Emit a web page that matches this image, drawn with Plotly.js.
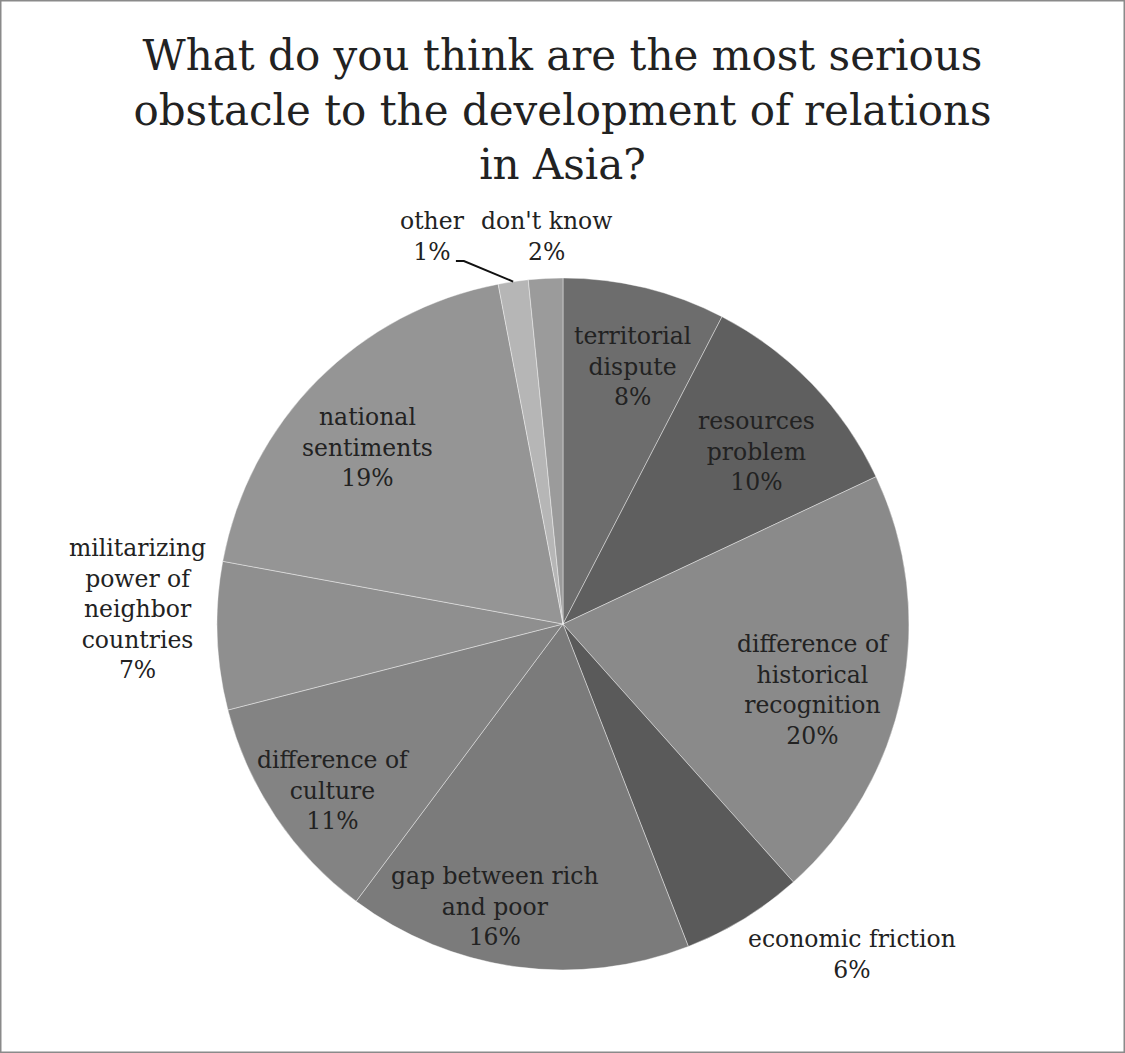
<!DOCTYPE html>
<html>
<head>
<meta charset="utf-8">
<script src="https://cdn.plot.ly/plotly-3.0.1.min.js"></script>
<style>html,body{margin:0;padding:0;background:#fff;}#chart{width:1125px;height:1053px;}</style>
</head>
<body>
<div id="chart"></div>
<script>
// ---- data ----
const categories = ["territorial dispute", "resources problem", "difference of historical recognition",
  "economic friction", "gap between rich and poor", "difference of culture",
  "militarizing power of neighbor countries", "national sentiments", "other", "don't know"];
const shares = [7.6, 10.4, 20.4, 5.7, 16.1, 10.8, 6.9, 19.1, 1.4, 1.6];
const labelLines = ["territorial<br>dispute", "resources<br>problem", "difference of<br>historical<br>recognition",
  "economic friction", "gap between rich<br>and poor", "difference of<br>culture",
  "militarizing<br>power of<br>neighbor<br>countries", "national<br>sentiments", "other", "don't know"];

// ---- styling ----
const sliceColors = ["#6d6d6d", "#5f5f5f", "#8a8a8a", "#5a5a5a", "#7b7b7b", "#838383", "#8f8f8f", "#959595", "#b6b6b6", "#9b9b9b"];
const labelRadius = [0.77, 0.75, 0.75, 1.27, 0.84, 0.82, 1.23, 0.76, 1.18, 1.12];
const labelTurn = [1.5, 2.2, 3.2, -9.7, 5.8, -2.2, 4, -2.8, -10.3, 0.5];
const W = 1125, H = 1053;
const CX = 563, CY = 624, R = 346;
const FONT = "DejaVu Serif, Liberation Serif, serif";

const total = shares.reduce((a, b) => a + b, 0);
const pctText = shares.map(v => Math.round(v / total * 100) + "%");

const annotations = [];
const shapes = [];
let cum = 0;
shares.forEach((v, i) => {
  const mid = (cum + v / 2) / total * 360;
  cum += v;
  const ang = (mid + labelTurn[i]) * Math.PI / 180;
  const px = CX + R * labelRadius[i] * Math.sin(ang);
  const py = CY - R * labelRadius[i] * Math.cos(ang);
  annotations.push({
    x: px / W, y: 1 - py / H, xref: "paper", yref: "paper",
    text: labelLines[i] + "<br>" + pctText[i], showarrow: false,
    xanchor: "center", yanchor: "middle", align: "center",
    font: {family: FONT, size: 23.5, color: "#222"}
  });
  if (categories[i] === "other") {
    const ma = mid * Math.PI / 180;
    const ex = CX + R * Math.sin(ma), ey = CY - R * Math.cos(ma);
    const sx = px + 23, sy = py + 24, kx = px + 31;
    const f = (x, y) => (x / W).toFixed(5) + "," + (1 - y / H).toFixed(5);
    shapes.push({type: "path", xref: "paper", yref: "paper",
      path: "M" + f(sx, sy) + " L" + f(kx, sy) + " L" + f(ex, ey),
      line: {color: "#111", width: 2}});
  }
});

shapes.push({type: "rect", xref: "paper", yref: "paper", x0: 0, y0: 0, x1: 1, y1: 1,
  line: {color: "#8a8a8a", width: 3}});

const trace = {
  type: "pie",
  labels: categories,
  values: shares,
  sort: false,
  direction: "clockwise",
  rotation: 0,
  textinfo: "none",
  hoverinfo: "label+percent",
  marker: {colors: sliceColors, line: {color: "rgba(255,255,255,0.4)", width: 1}},
  domain: {x: [(CX - R) / W, (CX + R) / W], y: [1 - (CY + R) / H, 1 - (CY - R) / H]}
};

const layout = {
  width: W, height: H,
  margin: {l: 0, r: 0, t: 0, b: 0},
  paper_bgcolor: "#fff",
  showlegend: false,
  title: {
    text: "What do you think are the most serious<br>obstacle to the development of relations<br>in Asia?",
    x: 0.5, xanchor: "center", y: 1 - 70 / H, yanchor: "top",
    font: {family: FONT, size: 42, color: "#222"}
  },
  annotations: annotations,
  shapes: shapes
};

Plotly.newPlot("chart", [trace], layout, {displayModeBar: false, staticPlot: true});
</script>
</body>
</html>
